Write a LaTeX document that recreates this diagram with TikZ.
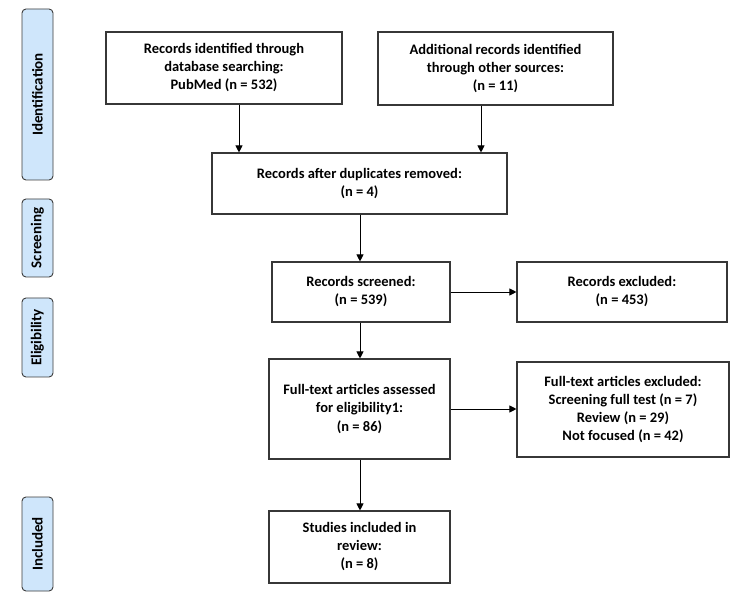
\documentclass[tikz,border=0pt]{standalone}
\usepackage{fontspec}
\setmainfont{Carlito}
\usetikzlibrary{arrows.meta}
\definecolor{lblfill}{RGB}{207,230,251}
\definecolor{lbldraw}{RGB}{60,60,60}
\definecolor{boxdraw}{RGB}{55,55,55}
\tikzset{
  box/.style={draw=boxdraw, line width=1.1pt, fill=white, align=center, inner sep=2pt,
    font=\fontsize{14.5}{18}\selectfont\bfseries},
  stage/.style={draw=lbldraw, line width=0.9pt, fill=lblfill, rounded corners=4pt, rotate=90,
    minimum height=31pt, inner sep=0pt, font=\fontsize{15}{17}\selectfont\bfseries},
  arr/.style={draw=black, line width=0.9pt, -{Triangle[length=7pt,width=7pt]}}
}
\begin{document}
\begin{tikzpicture}[x=1pt,y=-1pt]
\useasboundingbox[fill=white] (0,0) rectangle (750,609);
% stage labels
\node[stage, minimum width=171pt] (L1) at (37.5,94.5) {Identification};
\node[stage, minimum width=78pt] (L2) at (37.5,238) {Screening};
\node[stage, minimum width=79pt] (L3) at (37.5,337.5) {Eligibility};
\node[stage, minimum width=94pt] (L4) at (37.5,544) {Included};
% boxes
\node[box, minimum width=236pt, minimum height=72pt] (b1) at (224,68)
  {Records identified through\\database searching:\\PubMed (n = 532)};
\node[box, minimum width=235pt, minimum height=73pt] (b2) at (495.5,68.5)
  {Additional records identified\\through other sources:\\(n = 11)};
\node[box, minimum width=295pt, minimum height=61pt] (b3) at (359.5,183.5)
  {Records after duplicates removed:\\(n = 4)};
\node[box, minimum width=178pt, minimum height=60pt] (b4) at (361,292)
  {Records screened:\\(n = 539)};
\node[box, minimum width=210pt, minimum height=60pt] (b5) at (622,292)
  {Records excluded:\\(n = 453)};
\node[box, minimum width=181pt, minimum height=100pt] (b6) at (359.5,409)
  {Full-text articles assessed\\for eligibility1:\\(n = 86)};
\node[box, minimum width=212pt, minimum height=95pt] (b7) at (623,409.5)
  {Full-text articles excluded:\\Screening full test (n = 7)\\Review (n = 29)\\Not focused (n = 42)};
\node[box, minimum width=181pt, minimum height=72pt] (b8) at (359.5,547)
  {Studies included in\\review:\\(n = 8)};
% connectors
\coordinate (xa) at (239,0);
\coordinate (xb) at (481,0);
\coordinate (xc) at (360,0);
\draw[arr] (b1.south -| xa) -- (b3.north -| xa);
\draw[arr] (b2.south -| xb) -- (b3.north -| xb);
\draw[arr] (b3.south -| xc) -- (b4.north -| xc);
\draw[arr] (b4.south -| xc) -- (b6.north -| xc);
\draw[arr] (b6.south -| xc) -- (b8.north -| xc);
\draw[arr] (b4.east) -- (b5.west);
\draw[arr] (b6.east) -- (b6.east -| b7.west);
\end{tikzpicture}
\end{document}
